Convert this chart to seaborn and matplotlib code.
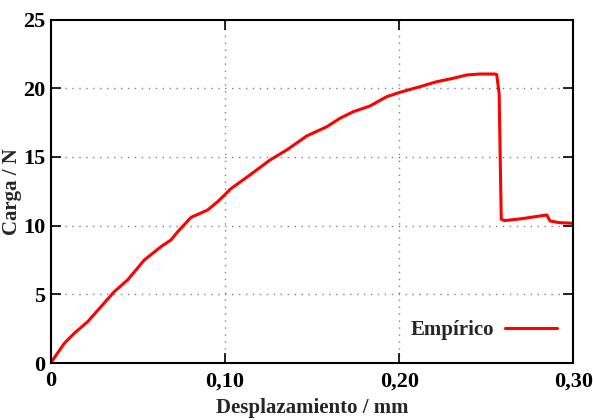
import matplotlib
matplotlib.use("Agg")
import matplotlib.pyplot as plt
import pandas as pd
import seaborn as sns
from matplotlib.ticker import FixedLocator, FixedFormatter

# Curve
desplazamiento = [0.0, 0.001, 0.0077, 0.0134, 0.021, 0.0287, 0.0364, 0.044, 0.0536,
                  0.0632, 0.0689, 0.0728, 0.0804, 0.090, 0.0957, 0.1034, 0.1143,
                  0.1258, 0.1354, 0.1469, 0.1584, 0.166, 0.1737, 0.1832, 0.1928,
                  0.2005, 0.212, 0.2216, 0.2311, 0.2388, 0.2464, 0.255, 0.256,
                  0.2574, 0.2586, 0.2605, 0.27, 0.2848, 0.2866, 0.292, 0.30]
carga = [0.0, 0.22, 1.44, 2.17, 3.0, 4.1, 5.2, 6.05, 7.5,
         8.47, 8.96, 9.56, 10.6, 11.14, 11.74, 12.7, 13.69,
         14.78, 15.51, 16.53, 17.2, 17.82, 18.3, 18.71, 19.39,
         19.71, 20.12, 20.48, 20.73, 20.97, 21.04, 21.04, 21.0,
         19.6, 10.47, 10.37, 10.5, 10.78, 10.34, 10.22, 10.17]

x_ticks = [0, 0.10, 0.20, 0.30]
x_labels = ["0", "0,10", "0,20", "0,30"]
y_ticks = [0, 5, 10, 15, 20, 25]
y_labels = ["0", "5", "10", "15", "20", "25"]

df = pd.DataFrame({"x": desplazamiento, "y": carga, "serie": "Empírico"})

sns.set_style("ticks")
plt.rcParams["font.family"] = ["Liberation Serif", "DejaVu Serif"]
plt.rcParams["font.weight"] = "bold"

fig = plt.figure(figsize=(5.93, 4.20), dpi=100)
ax = fig.add_axes([0.086, 0.1357, 0.8808, 0.8176])

sns.lineplot(data=df, x="x", y="y", hue="serie", palette=["#ff0000"],
             linewidth=2.2, sort=False, estimator=None, ax=ax)

ax.set_xlim(0, 0.30)
ax.set_ylim(0, 25)
ax.xaxis.set_major_locator(FixedLocator(x_ticks))
ax.xaxis.set_major_formatter(FixedFormatter(x_labels))
ax.yaxis.set_major_locator(FixedLocator(y_ticks))
ax.yaxis.set_major_formatter(FixedFormatter(y_labels))
ax.tick_params(direction="in", length=7, width=1.2, labelsize=16,
               top=True, right=True, colors="black")
ax.tick_params(axis="x", pad=6)
ax.tick_params(axis="y", pad=4)

for v in x_ticks[1:-1]:
    ax.axvline(v, color="#808080", linestyle=(0, (1, 4)), linewidth=1.0, zorder=0)
for v in y_ticks[1:-1]:
    ax.axhline(v, color="#808080", linestyle=(0, (1, 4)), linewidth=1.0, zorder=0)

for s in ax.spines.values():
    s.set_linewidth(1.5)
    s.set_color("black")

ax.set_xlabel("Desplazamiento / mm", fontsize=15, fontweight="bold", labelpad=5)
ax.set_ylabel("Carga / N", fontsize=15, fontweight="bold", labelpad=1)

leg = ax.legend(loc="lower right", frameon=False, markerfirst=False,
                prop={"size": 15, "weight": "bold"},
                handlelength=2.5, handletextpad=0.55,
                bbox_to_anchor=(1.005, 0.012))
leg.set_title(None)

fig.savefig("out.png", dpi=100)
